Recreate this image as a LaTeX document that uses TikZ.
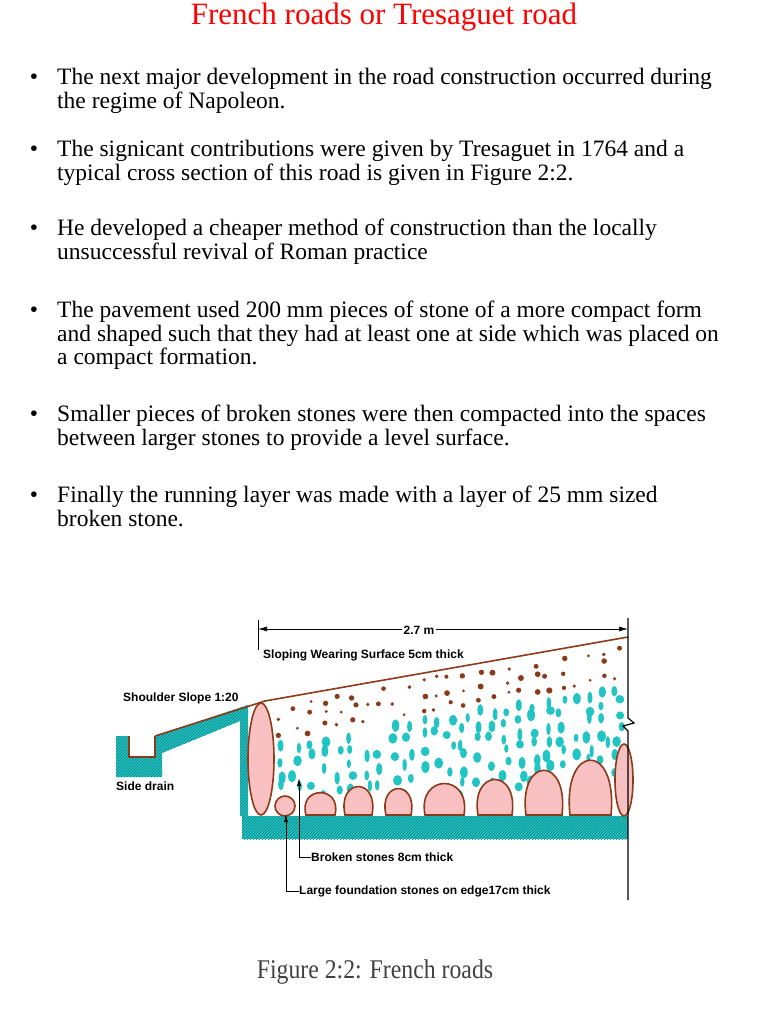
\documentclass[tikz,border=0pt]{standalone}
\usepackage{fontspec}
\setmainfont{Liberation Serif}
\setsansfont{Liberation Sans}
\usetikzlibrary{patterns,arrows.meta}
\definecolor{cy}{HTML}{22C4C4}
\definecolor{hatch}{HTML}{0A7F7F}
\definecolor{br}{HTML}{8B3A1A}
\definecolor{pk}{HTML}{F8C0C0}
\begin{document}
\begin{tikzpicture}[x=1pt,y=-1pt,
  body/.style={anchor=north west,align=left,font=\fontsize{23.5}{23.5}\selectfont,inner sep=0},
  lab/.style={font=\sffamily\bfseries\fontsize{12}{14}\selectfont,inner sep=0,anchor=west},
  stone/.style={fill=pk,draw=br,line width=1.6pt},
  hatched/.style={fill=cy},
  hl/.style={pattern=north east lines,pattern color=hatch}]
\useasboundingbox (0,0) rectangle (768,1024);
\node[font=\fontsize{31}{34}\selectfont,text=red] (title) at (384,17) {French roads or Tresaguet road};
\foreach \y/\t [count=\k] in {
 68/{The next major development in the road construction occurred during\\the regime of Napoleon.},
 140/{The signicant contributions were given by Tresaguet in 1764 and a\\typical cross section of this road is given in Figure 2:2.},
 219/{He developed a cheaper method of construction than the locally\\unsuccessful revival of Roman practice},
 301/{The pavement used 200 mm pieces of stone of a more compact form\\and shaped such that they had at least one at side which was placed on\\a compact formation.},
 405/{Smaller pieces of broken stones were then compacted into the spaces\\between larger stones to provide a level surface.},
 486/{Finally the running layer was made with a layer of 25 mm sized\\broken stone.}}{
 \node[body] (t\k) at (57,\y) {\makebox[0pt][r]{\textbullet\hspace{19pt}}\t};
}
\path[hatched] (116,736)--(129,736)--(129,757)--(155,757)--(155,736)--(248,705)--(248,816)--(240,816)--(240,721)--(162,753)--(162,777)--(116,777)--cycle;
\path[hl] (116,736)--(129,736)--(129,757)--(155,757)--(155,736)--(248,705)--(248,816)--(240,816)--(240,721)--(162,753)--(162,777)--(116,777)--cycle;
\draw[br,line width=1.2pt] (129,736)--(129,757)--(155,757)--(155,736);
\fill[cy] (242,816) rectangle (628,839);
\path[hl] (242,816) rectangle (628,839);
\pgfmathsetseed{5}
\foreach \cx in {282,296,...,618}{
  \foreach \r in {0,...,11}{
    \pgfmathsetmacro\xx{\cx+rand*4}
    \pgfmathsetmacro\tp{701-(\xx-265)*0.17355}
    \pgfmathsetmacro\yy{\tp+9+\r*13.5+rand*4}
    \pgfmathsetmacro\dd{\yy-\tp}
    \pgfmathsetmacro\bb{\dd<40 ? 1 : (\yy<798 ? 2 : 0)}
    \pgfmathsetmacro\sk{rnd<0.15 ? 1 : 0}
    \ifdim\sk pt<0.5pt
    \ifdim\bb pt>1.5pt
      \fill[cy] (\xx,\yy) ellipse ({2+rnd*2.5} and {4+rnd*2.5});
    \else\ifdim\bb pt>0.5pt
      \fill[br] (\xx,\yy) circle ({1.5+rnd*1.6});
    \fi\fi
    \fi
  }
}
\draw[stone] (261,759) ellipse (13 and 56);
\draw[stone] (624,780) ellipse (9 and 36);
\draw[stone] (285,806) circle (10);
\foreach \a/\b/\t in {302/336/793,341/373/787,382/412/789,421/465/784,474/513/780,522/563/771,566/612/761}{
  \draw[stone] (\a+4,815) .. controls (\a-4,{\t-(815-\t)*0.33}) and (\b+6,{\t-(815-\t)*0.38}) .. (\b-1,815) -- cycle;
}
\draw[br,line width=1.6pt] (155,736)--(265,701)--(628,637);
\draw[line width=1.2pt] (628,618)--(628,718)--(634,723)--(623,726)--(628,731)--(628,900);
\draw[line width=0.7pt] (258,620)--(258,650);
\coordinate (dl) at (258,629); \coordinate (dr) at (628,629);
\draw[-{Latex[length=9pt,width=5pt]},line width=0.7pt] (419,629)--(dl);
\draw[-{Latex[length=9pt,width=5pt]},line width=0.7pt] (419,629)--(dr);
\node[lab,anchor=center,fill=white,inner sep=2pt] (dim) at (419,630) {2.7 m};
\node[lab] (sw) at (263,655) {Sloping Wearing Surface 5cm thick};
\node[lab] (ss) at (123,698) {Shoulder Slope 1:20};
\node[lab] (sd) at (116,786) {Side drain};
\node[lab] (bs) at (311,857) {Broken stones 8cm thick};
\node[lab] (lf) at (299,891) {Large foundation stones on edge17cm thick};
\coordinate (ba) at (299,778); \coordinate (la) at (286,814);
\draw[-{Latex[length=8pt,width=4pt]},line width=0.7pt] (bs.west)-|(ba);
\draw[-{Latex[length=8pt,width=4pt]},line width=0.7pt] (lf.west)-|(la);
\node[font=\fontsize{27}{29}\selectfont,text=black!75,xscale=0.88] (cap) at (375,972) {Figure 2:2: French roads};
\end{tikzpicture}
\end{document}
